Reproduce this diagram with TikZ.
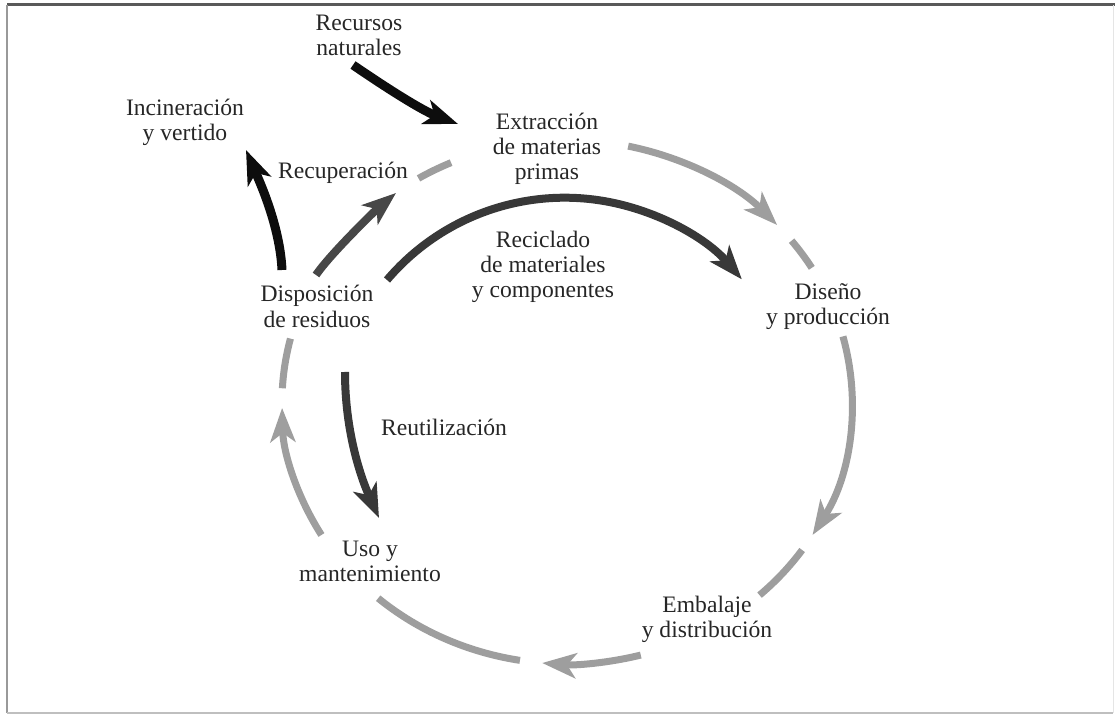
\documentclass[tikz,border=0pt]{standalone}
\usepackage{fontspec}
\setmainfont{Liberation Serif}
\usetikzlibrary{arrows.meta, calc}

\begin{document}
\begin{tikzpicture}[
    x=0.5pt, y=-0.5pt,
    >={Stealth[length=17pt, width=12.5pt, inset=4.5pt]},
    lbl/.style={align=center, inner sep=0pt, text=black!85,
        font=\fontsize{11.8}{12.6}\selectfont},
    ring/.style={draw=black!38, line width=3.5pt},
    flow/.style={draw=black!78, line width=4pt},
    strongflow/.style={draw=black!95, line width=4.5pt}
]
\useasboundingbox (0,0) rectangle (1115,715);

% frame
\draw[line width=1.5pt, black!65] (7,5) -- (1115,5);
\draw[line width=1pt, black!40] (7,5) -- (7,713);
\draw[line width=1pt, black!25] (7,713) -- (1113,713);
\draw[line width=0.5pt, black!10] (1113,5) -- (1113,713);

% stages of the cycle
\node[lbl] (recursos)      at (359,35.5) {Recursos\\naturales};
\node[lbl] (incineracion)  at (185,122.5) {Incineración\\y vertido};
\node[lbl] (recuperacion)  at (343,173) {Recuperación};
\node[lbl] (extraccion)    at (547,149) {Extracción\\de materias\\primas};
\node[lbl] (reciclado)     at (543,267) {Reciclado\\de materiales\\y componentes};
\node[lbl] (diseno)        at (828,306.5) {Diseño\\y producción};
\node[lbl] (disposicion)   at (317,306.5) {Disposición\\de residuos};
\node[lbl] (reutilizacion) at (444,427) {Reutilización};
\node[lbl] (uso)           at (370,561.5) {Uso y\\mantenimiento};
\node[lbl] (embalaje)      at (707,619.5) {Embalaje\\y distribución};

% main loop (gray ring)
\coordinate (ctr) at (567,402);
\draw[ring, ->] ($(ctr)+(-77.6:285 and 262)$) arc[start angle=-77.6, end angle=-42.5, x radius=285, y radius=262];
\draw[ring]     ($(ctr)+(-38:285 and 262)$)   arc[start angle=-38, end angle=-30.8, x radius=285, y radius=262];
\draw[ring, ->] ($(ctr)+(-14.5:285 and 262)$) arc[start angle=-14.5, end angle=30.5, x radius=285, y radius=262];
\draw[ring]     ($(ctr)+(34.4:285 and 262)$)  arc[start angle=34.4, end angle=47.5, x radius=285, y radius=262];
\draw[ring, ->] ($(ctr)+(75:285 and 262)$)    arc[start angle=75, end angle=95, x radius=285, y radius=262];
\draw[ring]     ($(ctr)+(99.5:285 and 262)$)  arc[start angle=99.5, end angle=131.5, x radius=285, y radius=262];
\draw[ring, ->] ($(ctr)+(149.5:285 and 262)$) arc[start angle=149.5, end angle=178.7, x radius=285, y radius=262];
\draw[ring]     ($(ctr)+(183:285 and 262)$)   arc[start angle=183, end angle=194, x radius=285, y radius=262];
\draw[ring]     ($(ctr)+(238.6:285 and 262)$) arc[start angle=238.6, end angle=246, x radius=285, y radius=262];

% inflow, outflow and the inner loops
\coordinate (natOut) at (353,65);   \coordinate (extIn) at (458,124);
\coordinate (resUp)  at (282,270);  \coordinate (incIn) at (246,150);
\coordinate (resRec) at (316,275);  \coordinate (recIn) at (396,193);
\coordinate (resCyc) at (387,280);
\coordinate (resUse) at (345,372);  \coordinate (usoIn) at (379,518);

\draw[strongflow, ->] (natOut) .. controls +(35,24) and +(-35,-13) .. (extIn);
\draw[strongflow, ->] (resUp) .. controls +(-2,-45) and +(12,28) .. (incIn);
\draw[flow, draw=black!72, ->] (resRec) .. controls +(15,-22) and +(-18,15) .. (recIn);
\draw[flow, ->] (resCyc) arc[start angle=-139.7, end angle=-40.5, radius=233];
\draw[flow, ->] (resUse) .. controls +(0,60) and +(-18,-40) .. (usoIn);
\end{tikzpicture}
\end{document}
